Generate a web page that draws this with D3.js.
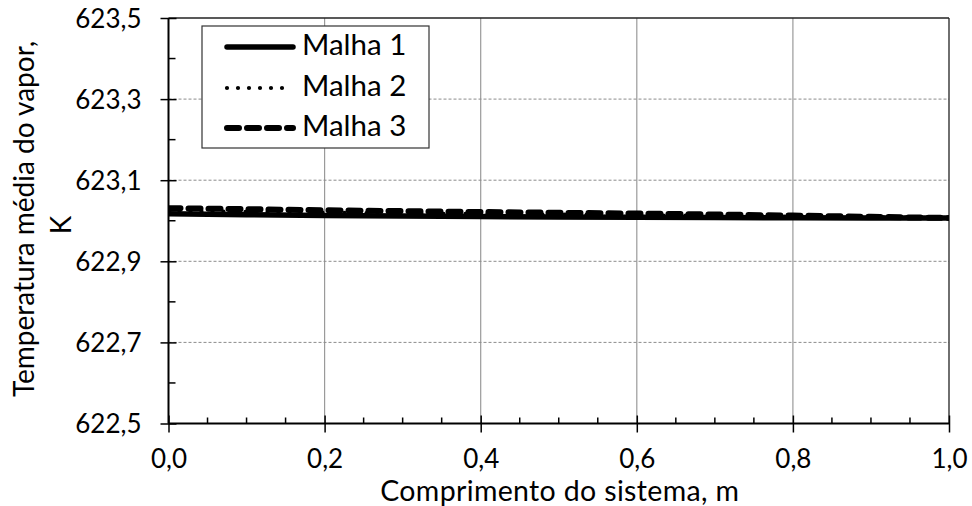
<!DOCTYPE html>
<html>
<head>
<meta charset="utf-8">
<script src="https://cdn.jsdelivr.net/npm/d3@7"></script>
<style>
  html, body { margin: 0; padding: 0; background: #fff; }
  svg text { font-family: Lato, "Noto Sans", sans-serif; fill: #000; }
</style>
</head>
<body>
<svg id="chart" width="972" height="506"></svg>
<script>
// Position along the system (m)
const positions = [0.0, 0.1, 0.2, 0.3, 0.4, 0.5, 0.6, 0.7, 0.8, 0.9, 1.0];
// Mean vapour temperature (K) for each mesh
const malha1 = [623.0170, 623.0150, 623.0132, 623.0117, 623.0105, 623.0095, 623.0086, 623.0080, 623.0075, 623.0070, 623.0066];
const malha2 = [623.0240, 623.0220, 623.0200, 623.0182, 623.0165, 623.0150, 623.0135, 623.0120, 623.0102, 623.0085, 623.0067];
const malha3 = [623.0310, 623.0285, 623.0260, 623.0237, 623.0215, 623.0196, 623.0178, 623.0155, 623.0127, 623.0097, 623.0068];
const seriesNames = ["Malha 1", "Malha 2", "Malha 3"];
const xTicks = [0.0, 0.2, 0.4, 0.6, 0.8, 1.0];
const yTicks = [622.5, 622.7, 622.9, 623.1, 623.3, 623.5];
const xLabel = "Comprimento do sistema, m";
const yLabelLines = ["Temperatura média do vapor,", "K"];

const svg = d3.select("#chart");
const L = 168.5, R = 949, T = 18, B = 423.5;

const x = d3.scaleLinear().domain([0, 1]).range([L, R]);
const y = d3.scaleLinear().domain([622.5, 623.5]).range([B, T]);
const comma = v => d3.format(".1f")(v).replace(".", ",");

// vertical gridlines (solid grey)
svg.append("g").selectAll("line")
  .data(xTicks.filter(v => v > 0 && v < 1))
  .join("line")
  .attr("x1", d => x(d)).attr("x2", d => x(d))
  .attr("y1", T).attr("y2", B)
  .attr("stroke", "#9a9a9a").attr("stroke-width", 1.2);

// horizontal gridlines (dashed grey)
svg.append("g").selectAll("line")
  .data(yTicks.filter(v => v > 622.5 && v < 623.5))
  .join("line")
  .attr("x1", L).attr("x2", R)
  .attr("y1", d => y(d)).attr("y2", d => y(d))
  .attr("stroke", "#8c8c8c").attr("stroke-width", 1)
  .attr("stroke-dasharray", "3,2");

// plot border: top and right
svg.append("line").attr("x1", L).attr("x2", R).attr("y1", T).attr("y2", T)
  .attr("stroke", "#222").attr("stroke-width", 1.3);
svg.append("line").attr("x1", R).attr("x2", R).attr("y1", T).attr("y2", B)
  .attr("stroke", "#222").attr("stroke-width", 1.3);

// data lines
svg.append("clipPath").attr("id", "plotClip").append("rect")
  .attr("x", L).attr("y", T).attr("width", R - L).attr("height", B - T);

const line = d3.line().x((d, i) => x(positions[i])).y(d => y(d));
const styles = [
  { width: 5.5, dash: null, cap: "round" },
  { width: 4.2, dash: "0,11", cap: "round" },
  { width: 6, dash: "12,8", cap: "round" }
];
const gLines = svg.append("g").attr("clip-path", "url(#plotClip)");
[malha1, malha2, malha3].forEach((s, i) => {
  gLines.append("path")
    .attr("d", line(s))
    .attr("fill", "none")
    .attr("stroke", "#000")
    .attr("stroke-width", styles[i].width)
    .attr("stroke-linecap", styles[i].cap)
    .attr("stroke-linejoin", "round")
    .attr("stroke-dasharray", styles[i].dash);
});

// Y axis
const yAxis = d3.axisLeft(y).tickValues(yTicks).tickFormat(comma).tickSize(8);
const gy = svg.append("g").attr("transform", `translate(${L},0)`).call(yAxis);
gy.select(".domain").remove();
gy.selectAll(".tick line").attr("x2", 8).attr("x1", -8).attr("stroke", "#000").attr("stroke-width", 1.5);
gy.selectAll(".tick text").attr("font-size", 26).attr("x", -27).attr("dy", "0.36em")
  .style("font-family", "Lato, sans-serif");
// Y minor ticks (inside)
svg.append("g").selectAll("line")
  .data(d3.range(622.6, 623.5, 0.2))
  .join("line")
  .attr("x1", L).attr("x2", L + 7)
  .attr("y1", d => y(d)).attr("y2", d => y(d))
  .attr("stroke", "#000").attr("stroke-width", 1.5);

// X axis
const xAxis = d3.axisBottom(x).tickValues(xTicks).tickFormat(comma).tickSize(9);
const gx = svg.append("g").attr("transform", `translate(0,${B})`).call(xAxis);
gx.select(".domain").remove();
gx.selectAll(".tick line").attr("y1", -8).attr("y2", 9).attr("stroke", "#000").attr("stroke-width", 1.5);
gx.selectAll(".tick text").attr("font-size", 26).attr("y", 44).attr("dy", 0)
  .style("font-family", "Lato, sans-serif");
// X minor ticks (inside)
svg.append("g").selectAll("line")
  .data(d3.range(0.05, 1, 0.05).filter(v => Math.abs(v * 5 - Math.round(v * 5)) > 1e-6))
  .join("line")
  .attr("x1", d => x(d)).attr("x2", d => x(d))
  .attr("y1", B - 6).attr("y2", B)
  .attr("stroke", "#000").attr("stroke-width", 1.5);

// axis lines
svg.append("line").attr("x1", L).attr("x2", L).attr("y1", T).attr("y2", B)
  .attr("stroke", "#000").attr("stroke-width", 2);
svg.append("line").attr("x1", L).attr("x2", R).attr("y1", B).attr("y2", B)
  .attr("stroke", "#000").attr("stroke-width", 2);

// axis titles
svg.append("text").attr("x", (L + R) / 2 + 1).attr("y", 501)
  .attr("text-anchor", "middle").attr("font-size", 28.5)
  .attr("letter-spacing", 0.35).text(xLabel);
const yt = svg.append("text").attr("transform", "rotate(-90)")
  .attr("text-anchor", "middle").attr("font-size", 28);
yt.append("tspan").attr("x", -219).attr("y", 34).text(yLabelLines[0]);
yt.append("tspan").attr("x", -225).attr("y", 71).text(yLabelLines[1]);

// legend
const leg = svg.append("g");
leg.append("rect").attr("x", 202).attr("y", 26).attr("width", 227).attr("height", 122)
  .attr("fill", "#fff").attr("stroke", "#333").attr("stroke-width", 1.2);
const legY = [47, 88, 128];
seriesNames.forEach((name, i) => {
  leg.append("line").attr("x1", 227).attr("x2", 293)
    .attr("y1", legY[i]).attr("y2", legY[i])
    .attr("stroke", "#000")
    .attr("stroke-width", styles[i].width)
    .attr("stroke-linecap", styles[i].cap)
    .attr("stroke-dasharray", styles[i].dash);
  leg.append("text").attr("x", 302).attr("y", legY[i] + 8)
    .attr("font-size", 29.5).text(name);
});
</script>
</body>
</html>
